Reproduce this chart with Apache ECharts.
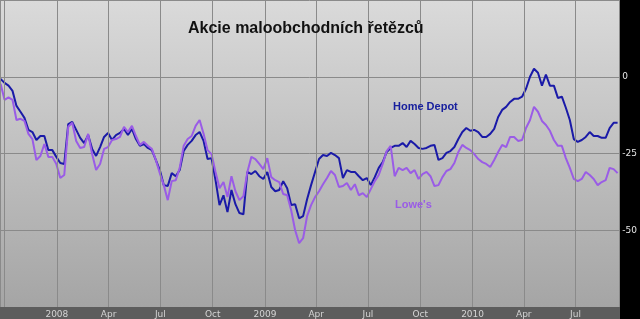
<!DOCTYPE html>
<html>
<head>
<meta charset="utf-8">
<script src="https://cdn.jsdelivr.net/npm/echarts@6/dist/echarts.min.js"></script>
<style>html,body{margin:0;padding:0;background:#000;}#c{width:640px;height:319px;}</style>
</head>
<body>
<div id="c"></div>
<script>
const titleText = 'Akcie maloobchodních řetězců';
const seriesNames = ['Home Depot', "Lowe's"];
const monthLabels = ['', 'Jan', 'Feb', 'Mar', 'Apr', 'May', 'Jun', 'Jul', 'Aug', 'Sep', 'Oct', 'Nov', 'Dec'];
const yTicks = [0, -25, -50];

const dates = [
'2007-09-24','2007-10-01','2007-10-08','2007-10-15','2007-10-22','2007-10-29','2007-11-05','2007-11-12','2007-11-19','2007-11-26','2007-12-03','2007-12-10','2007-12-17','2007-12-24','2007-12-31',
'2008-01-07','2008-01-14','2008-01-21','2008-01-28','2008-02-04','2008-02-11','2008-02-18','2008-02-25','2008-03-03','2008-03-10','2008-03-17','2008-03-24','2008-03-31',
'2008-04-07','2008-04-14','2008-04-21','2008-04-28','2008-05-05','2008-05-12','2008-05-19','2008-05-26','2008-06-02','2008-06-09','2008-06-16','2008-06-23','2008-06-30',
'2008-07-07','2008-07-14','2008-07-21','2008-07-28','2008-08-04','2008-08-11','2008-08-18','2008-08-25','2008-09-01','2008-09-08','2008-09-15','2008-09-22','2008-09-29',
'2008-10-06','2008-10-13','2008-10-20','2008-10-27','2008-11-03','2008-11-10','2008-11-17','2008-11-24','2008-12-01','2008-12-08','2008-12-15','2008-12-22','2008-12-29',
'2009-01-05','2009-01-12','2009-01-19','2009-01-26','2009-02-02','2009-02-09','2009-02-16','2009-02-23','2009-03-02','2009-03-09','2009-03-16','2009-03-23','2009-03-30',
'2009-04-06','2009-04-13','2009-04-20','2009-04-27','2009-05-04','2009-05-11','2009-05-18','2009-05-25','2009-06-01','2009-06-08','2009-06-15','2009-06-22','2009-06-29',
'2009-07-06','2009-07-13','2009-07-20','2009-07-27','2009-08-03','2009-08-10','2009-08-17','2009-08-24','2009-08-31','2009-09-07','2009-09-14','2009-09-21','2009-09-28',
'2009-10-05','2009-10-12','2009-10-19','2009-10-26','2009-11-02','2009-11-09','2009-11-16','2009-11-23','2009-11-30','2009-12-07','2009-12-14','2009-12-21','2009-12-28',
'2010-01-04','2010-01-11','2010-01-18','2010-01-25','2010-02-01','2010-02-08','2010-02-15','2010-02-22','2010-03-01','2010-03-08','2010-03-15','2010-03-22','2010-03-29',
'2010-04-05','2010-04-12','2010-04-19','2010-04-26','2010-05-03','2010-05-10','2010-05-17','2010-05-24','2010-05-31','2010-06-07','2010-06-14','2010-06-21','2010-06-28',
'2010-07-05','2010-07-12','2010-07-19','2010-07-26','2010-08-02','2010-08-09','2010-08-16','2010-08-23','2010-08-30','2010-09-06','2010-09-13'
];

const homeDepot = [
-0.7,-2.0,-2.9,-4.6,-9.5,-11.4,-13.4,-17.3,-18.0,-20.6,-19.3,-19.3,-23.9,-23.9,-26.1,
-28.1,-28.4,-15.4,-14.7,-17.3,-19.9,-21.6,-19.0,-23.5,-25.8,-22.9,-19.6,-18.3,
-20.6,-19.0,-18.3,-17.0,-19.0,-17.0,-20.3,-22.5,-21.9,-23.2,-23.9,-27.1,-30.4,
-35.3,-35.6,-31.4,-32.4,-30.4,-24.2,-22.2,-20.9,-19.0,-18.0,-20.9,-26.8,-26.5,
-33.7,-41.8,-38.6,-44.1,-36.9,-41.5,-44.4,-44.8,-31.0,-31.7,-30.7,-32.4,-33.3,
-31.0,-35.9,-37.3,-36.9,-34.0,-36.3,-41.8,-41.5,-46.1,-45.4,-39.9,-35.3,-31.0,
-26.8,-25.5,-25.8,-24.8,-25.5,-26.5,-33.0,-30.4,-31.0,-31.0,-32.4,-33.7,-33.0,
-35.3,-32.7,-29.7,-27.8,-24.5,-23.2,-22.5,-22.5,-21.6,-22.9,-20.9,-21.9,-23.2,
-23.5,-23.2,-22.5,-22.2,-27.1,-26.5,-24.8,-24.2,-22.9,-20.3,-18.0,-16.7,-17.6,
-17.3,-18.0,-19.6,-19.6,-18.6,-17.0,-13.1,-10.8,-9.8,-8.2,-7.2,-7.2,-6.5,
-3.9,0.0,2.6,1.3,-2.9,0.7,-2.9,-2.9,-6.9,-6.5,-10.1,-14.1,-20.3,
-21.2,-20.6,-19.6,-18.0,-19.3,-19.3,-19.9,-19.9,-16.7,-15.0,-15.0
];

const lowes = [
-2.3,-7.5,-6.7,-7.5,-14.1,-13.7,-14.4,-18.6,-20.3,-27.1,-25.8,-21.9,-26.1,-26.1,-28.4,
-33.0,-32.0,-16.3,-15.0,-20.9,-23.2,-22.9,-18.6,-25.2,-30.4,-28.4,-23.5,-22.9,
-20.6,-20.3,-19.6,-16.3,-18.0,-16.0,-19.3,-22.2,-21.2,-22.5,-23.5,-27.1,-31.4,
-35.3,-40.2,-34.0,-33.7,-29.7,-22.5,-20.3,-19.3,-16.0,-14.1,-18.6,-23.9,-25.2,
-31.0,-36.3,-34.3,-39.2,-32.4,-37.3,-40.2,-38.9,-31.0,-26.1,-26.8,-28.4,-30.1,
-26.5,-32.7,-33.7,-34.3,-38.2,-38.6,-43.5,-50.0,-54.2,-52.6,-45.4,-41.8,-39.2,
-37.3,-35.0,-33.0,-30.7,-32.0,-35.9,-35.6,-34.6,-36.9,-35.0,-38.6,-37.9,-39.2,
-36.6,-34.0,-32.0,-28.4,-24.2,-22.5,-32.4,-29.7,-30.4,-29.7,-31.4,-30.4,-33.3,
-31.7,-31.0,-32.4,-35.6,-35.3,-32.7,-30.7,-30.1,-28.1,-24.5,-22.2,-23.2,-23.9,
-25.2,-26.8,-27.8,-28.4,-29.4,-27.1,-24.5,-22.2,-22.9,-19.6,-19.6,-20.9,-20.6,
-16.7,-14.1,-9.8,-11.4,-14.4,-15.7,-17.6,-20.6,-22.5,-22.5,-26.5,-29.7,-33.3,
-34.0,-33.3,-31.0,-32.0,-33.3,-35.3,-34.3,-33.7,-29.7,-30.1,-31.4
];

const chart = echarts.init(document.getElementById('c'), null, {renderer: 'canvas'});
const DAY = 86400000;
chart.setOption({
  animation: false,
  backgroundColor: '#000',
  title: {
    text: titleText, left: 183, top: 16,
    textStyle: {fontFamily: 'Liberation Sans, Arial, sans-serif', fontSize: 16, fontWeight: 'bold', color: '#111'}
  },
  grid: {
    left: 0, right: 20, top: 0, bottom: 12, show: true, borderWidth: 0,
    backgroundColor: {type: 'linear', x: 0, y: 0, x2: 0, y2: 1,
      colorStops: [{offset: 0, color: '#dadada'}, {offset: 1, color: '#a5a5a5'}]}
  },
  graphic: [
    {type: 'rect', z: 1, shape: {x: 0, y: 307, width: 620, height: 12}, style: {fill: '#5d5d5d'}},
    {type: 'text', z: 10, left: 393, top: 101, style: {text: seriesNames[0], fill: '#18209e', font: 'bold 11px "Liberation Sans", Arial, sans-serif'}},
    {type: 'text', z: 10, left: 395, top: 199, style: {text: seriesNames[1], fill: '#9a5ce6', font: 'bold 11px "Liberation Sans", Arial, sans-serif'}}
  ],
  xAxis: {
    type: 'time', z: 5,
    min: '2007-09-23', max: '2010-09-16',
    minInterval: 85 * DAY, maxInterval: 95 * DAY,
    axisLine: {show: false}, axisTick: {show: false},
    splitLine: {show: true, lineStyle: {color: '#8a8a8a', width: 1}},
    axisLabel: {
      margin: 3, color: '#d4d4d4', fontFamily: 'DejaVu Sans, Verdana, sans-serif', fontSize: 9,
      hideOverlap: false,
      formatter: function (val) {
        const d = new Date(val);
        if (d.getFullYear() < 2008) return '';
        return d.getMonth() === 0 ? String(d.getFullYear()) : monthLabels[d.getMonth() + 1];
      }
    }
  },
  yAxis: {
    type: 'value', position: 'right', min: -75, max: 25, interval: 25,
    axisLine: {show: false}, axisTick: {show: false},
    splitLine: {show: true, lineStyle: {color: '#8a8a8a', width: 1}},
    axisLabel: {
      margin: 3, color: '#e6e6e6', fontFamily: 'DejaVu Sans, Verdana, sans-serif', fontSize: 9,
      formatter: function (v) { return yTicks.indexOf(v) >= 0 ? String(v) : ''; }
    }
  },
  series: [
    {name: seriesNames[0], type: 'line', showSymbol: false, z: 3,
     data: dates.map((d, i) => [d, homeDepot[i]]),
     lineStyle: {color: '#1a1aa8', width: 2}},
    {name: seriesNames[1], type: 'line', showSymbol: false, z: 4,
     data: dates.map((d, i) => [d, lowes[i]]),
     lineStyle: {color: '#9a5ce6', width: 2}}
  ]
});
</script>
</body>
</html>
